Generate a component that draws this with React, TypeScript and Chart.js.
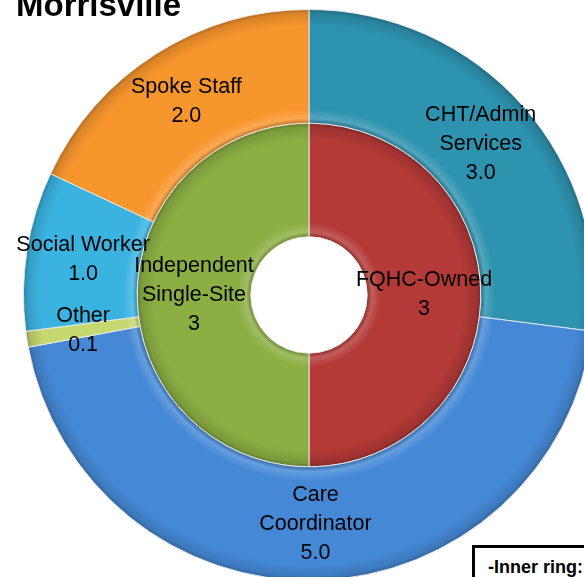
import React, { useEffect, useRef } from "react";
import { Chart, registerables } from "chart.js";

Chart.register(...registerables);

const TITLE = "Morrisville";
const outerCategories: string[][] = [
  ["CHT/Admin", "Services"],
  ["Care", "Coordinator"],
  ["Other"],
  ["Social Worker"],
  ["Spoke Staff"],
];
const outerValues = [3.0, 5.0, 0.1, 1.0, 2.0];
const outerColors = ["#2E93AF", "#4589D6", "#C6D96E", "#3BB3E0", "#F8962E"];

const innerCategories: string[][] = [["FQHC-Owned"], ["Independent", "Single-Site"]];
const innerValues = [3, 3];
const innerColors = ["#B33A37", "#8CAF44"];

const NOTE = "-Inner ring: Practice Type";

function shade(hex: string, f: number): string {
  const n = parseInt(hex.slice(1), 16);
  let r = (n >> 16) & 255, g = (n >> 8) & 255, b = n & 255;
  if (f >= 0) {
    r = r + (255 - r) * f; g = g + (255 - g) * f; b = b + (255 - b) * f;
  } else {
    r = r * (1 + f); g = g * (1 + f); b = b * (1 + f);
  }
  return `rgb(${Math.round(r)},${Math.round(g)},${Math.round(b)})`;
}

const CUTOUT = 0.204;

function ringGradient(ctx: any, colors: string[]) {
  const chart = ctx.chart;
  const base = colors[ctx.dataIndex % colors.length];
  const area = chart.chartArea;
  if (!area) return base;
  const cx = (area.left + area.right) / 2;
  const cy = (area.top + area.bottom) / 2;
  const R = Math.min(area.right - area.left, area.bottom - area.top) / 2;
  const r0 = R * CUTOUT;
  const t = (R - r0) / 2;
  const ringIdx = ctx.datasetIndex;
  const outer = R - t * ringIdx;
  const inner = outer - t;
  const g = chart.ctx.createRadialGradient(cx, cy, inner, cx, cy, outer);
  g.addColorStop(0, shade(base, -0.2));
  g.addColorStop(0.04, shade(base, 0.18));
  g.addColorStop(0.12, base);
  g.addColorStop(0.85, base);
  g.addColorStop(0.96, shade(base, -0.12));
  g.addColorStop(1, shade(base, -0.3));
  return g;
}

const labelPlugin = {
  id: "ringLabels",
  afterDatasetsDraw(chart: any) {
    const c = chart.ctx;
    c.save();
    c.font = '21.5px "Liberation Sans", Arial, sans-serif';
    c.fillStyle = "#000";
    c.textAlign = "center";
    c.textBaseline = "middle";
    const lineH = 29;
    chart.data.datasets.forEach((ds: any, di: number) => {
      const meta = chart.getDatasetMeta(di);
      meta.data.forEach((arc: any, i: number) => {
        const p = arc.getProps(["x", "y", "startAngle", "endAngle", "innerRadius", "outerRadius"], true);
        const a = (p.startAngle + p.endAngle) / 2;
        const r = (p.innerRadius + p.outerRadius) / 2;
        const x = p.x + Math.cos(a) * r;
        const y = p.y + Math.sin(a) * r;
        const v = ds.data[i];
        const lines = [...ds.wrapped[i], di === 0 ? v.toFixed(1) : String(v)];
        const top = y - ((lines.length - 1) * lineH) / 2;
        lines.forEach((ln: string, k: number) => c.fillText(ln, x, top + k * lineH));
      });
    });
    c.restore();
  },
};

export default function App() {
  const ref = useRef<HTMLCanvasElement | null>(null);
  useEffect(() => {
    if (!ref.current) return;
    const chart = new Chart(ref.current, {
      type: "doughnut",
      data: {
        labels: outerCategories.map((l) => l.join(" ")),
        datasets: [
          {
            data: outerValues,
            wrapped: outerCategories,
            backgroundColor: (ctx: any) => ringGradient(ctx, outerColors),
            borderColor: "rgba(235,235,235,0.9)",
            borderWidth: 1,
          } as any,
          {
            data: innerValues,
            wrapped: innerCategories,
            backgroundColor: (ctx: any) => ringGradient(ctx, innerColors),
            borderColor: "rgba(235,235,235,0.9)",
            borderWidth: 1,
          } as any,
        ],
      },
      options: {
        responsive: false,
        maintainAspectRatio: false,
        animation: false,
        cutout: `${CUTOUT * 100}%`,
        layout: { padding: { left: 23, top: 9, right: 5, bottom: 19 } },
        plugins: { legend: { display: false }, tooltip: { enabled: false }, title: { display: false } },
      },
      plugins: [labelPlugin],
    });
    return () => chart.destroy();
  }, []);
  return (
    <div style={{ position: "fixed", left: 0, top: 0, width: 584, height: 577, overflow: "hidden", background: "#fff" }}>
      <canvas ref={ref} width={600} height={600} style={{ position: "absolute", left: 0, top: 0 }} />
      <div
        style={{
          position: "absolute",
          left: 16,
          top: -14,
          font: 'bold 33px "Liberation Sans", Arial, sans-serif',
          lineHeight: "38px",
          color: "#000",
        }}
      >
        {TITLE}
      </div>
      <div
        style={{
          position: "absolute",
          left: 472,
          top: 545,
          width: 220,
          height: 80,
          border: "3px solid #000",
          background: "#fff",
          boxSizing: "border-box",
          padding: "9px 0 0 13px",
          font: 'bold 18px "Liberation Sans", Arial, sans-serif',
          whiteSpace: "nowrap",
          color: "#000",
        }}
      >
        {NOTE}
      </div>
    </div>
  );
}
